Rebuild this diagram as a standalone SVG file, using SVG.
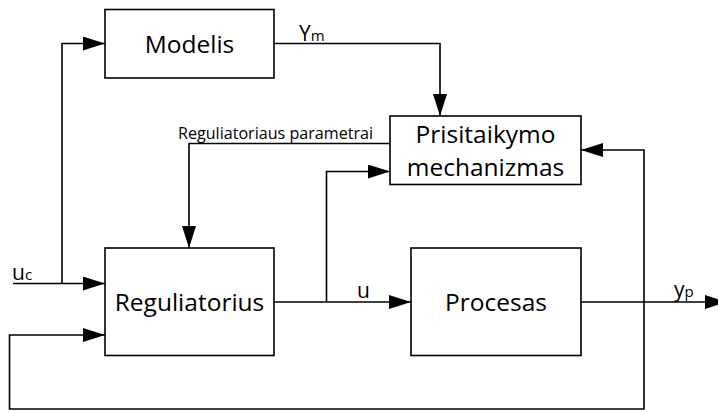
<svg xmlns="http://www.w3.org/2000/svg" width="718" height="412" viewBox="0 0 718 412">
  <style>
    .box { fill: #ffffff; stroke: #000000; stroke-width: 1.6; }
    .wire { fill: none; stroke: #000000; stroke-width: 1.6; }
    .lbl { font-family: "Open Sans", "Noto Sans", sans-serif; fill: #000000; }
    .big { font-size: 24.5px; text-anchor: middle; }
  </style>
  <defs>
    <marker id="arrow" markerUnits="userSpaceOnUse" markerWidth="22" markerHeight="14" refX="22" refY="7" orient="auto">
      <path d="M0,0 L22,7 L0,14 Z" fill="#000000"/>
    </marker>
  </defs>

  <!-- connectors -->
  <g id="connectors">
    <!-- reference input u_c, split to model and controller -->
    <path class="wire" d="M13,283.5 H105" marker-end="url(#arrow)"/>
    <path class="wire" d="M62,283.5 V43.5 H105" marker-end="url(#arrow)"/>
    <!-- model output y_m to adaptation mechanism -->
    <path class="wire" d="M274,43.5 H440 V116" marker-end="url(#arrow)"/>
    <!-- adaptation mechanism: controller parameters -->
    <path class="wire" d="M390,143.5 H189 V248" marker-end="url(#arrow)"/>
    <!-- control signal u -->
    <path class="wire" d="M274,302 H411" marker-end="url(#arrow)"/>
    <path class="wire" d="M326.5,302 V171.5 H390" marker-end="url(#arrow)"/>
    <!-- process output y_p -->
    <path class="wire" d="M581,302 H727" marker-end="url(#arrow)"/>
    <path class="wire" d="M644,302 V150 H581" marker-end="url(#arrow)"/>
    <!-- output feedback to controller -->
    <path class="wire" d="M644,302 V409 H9.5 V335 H105" marker-end="url(#arrow)"/>
  </g>

  <g id="modelis">
    <rect class="box" x="105" y="9.5" width="169" height="68.5"/>
    <text class="lbl big" x="189.5" y="53">Modelis</text>
  </g>

  <g id="prisitaikymo-mechanizmas">
    <rect class="box" x="390" y="116" width="191" height="68.5"/>
    <text class="lbl big" x="485.5" y="143">Prisitaikymo</text>
    <text class="lbl big" x="485.5" y="175.5">mechanizmas</text>
  </g>

  <g id="reguliatorius">
    <rect class="box" x="105" y="248" width="169" height="107.5"/>
    <text class="lbl big" x="189.5" y="311">Reguliatorius</text>
  </g>

  <g id="procesas">
    <rect class="box" x="411" y="248" width="170" height="107.5"/>
    <text class="lbl big" x="496" y="311">Procesas</text>
  </g>

  <g id="labels">
    <text class="lbl" x="178" y="138.5" font-size="16" textLength="195" lengthAdjust="spacingAndGlyphs">Reguliatoriaus parametrai</text>
    <text class="lbl" x="299" y="40.5" font-size="21">Y<tspan font-size="15">m</tspan></text>
    <text class="lbl" x="12" y="279.5" font-size="21">u<tspan font-size="15">c</tspan></text>
    <text class="lbl" x="357" y="298" font-size="21">u</text>
    <text class="lbl" x="674" y="297" font-size="21">y<tspan font-size="15">p</tspan></text>
  </g>
</svg>
